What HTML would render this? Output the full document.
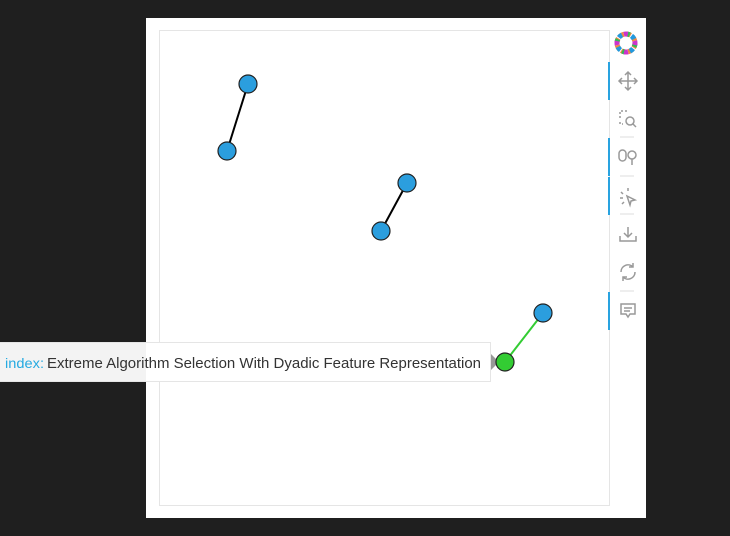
<!DOCTYPE html>
<html><head><style>
html,body{margin:0;padding:0;background:#1f1f1f;width:730px;height:536px;overflow:hidden;font-family:"Liberation Sans",sans-serif}
</style></head><body>
<svg width="730" height="536" xmlns="http://www.w3.org/2000/svg" style="position:absolute;left:0;top:0">
<rect x="0" y="0" width="730" height="536" fill="#1f1f1f"/>
<rect x="146" y="18" width="500" height="500" fill="#fff"/>
<rect x="159.5" y="30.5" width="450" height="475" fill="none" stroke="#e5e5e5"/>
<line x1="248" y1="84" x2="227" y2="151" stroke="#000" stroke-width="2"/>
<line x1="407" y1="183" x2="381" y2="231" stroke="#000" stroke-width="2"/>
<line x1="543" y1="313" x2="505" y2="362" stroke="#33cc33" stroke-width="2"/>
<g stroke="#222" stroke-width="1.2" fill="#2b9ede">
<circle cx="248" cy="84" r="9"/><circle cx="227" cy="151" r="9"/>
<circle cx="407" cy="183" r="9"/><circle cx="381" cy="231" r="9"/>
<circle cx="543" cy="313" r="9"/>
</g>
<!-- toolbar -->
<g fill="#29a3e0">
<rect x="608" y="62" width="2" height="38"/>
<rect x="608" y="138" width="2" height="38"/>
<rect x="608" y="177" width="2" height="38"/>
<rect x="608" y="292" width="2" height="38"/>
</g>
<g stroke="#ddd"><line x1="620" y1="137" x2="634" y2="137"/><line x1="620" y1="176" x2="634" y2="176"/><line x1="620" y1="214" x2="634" y2="214"/><line x1="620" y1="291" x2="634" y2="291"/></g>
<g transform="translate(626,43)">
<circle r="9" fill="none" stroke="#e84" stroke-width="5" stroke-dasharray="5 2"/>
<circle r="9" fill="none" stroke="#3b5" stroke-width="5" stroke-dasharray="4 10" />
<circle r="9" fill="none" stroke="#29d" stroke-width="5" stroke-dasharray="4 10" stroke-dashoffset="8"/>
<circle r="9" fill="none" stroke="#c3c" stroke-width="5" stroke-dasharray="4 10" stroke-dashoffset="16"/>
<circle r="5" fill="#fff"/>
</g>
<g stroke="#999" stroke-width="1.5" fill="none">
<path d="M628 72v18M619 81h18M625 75l3-3 3 3M625 87l3 3 3-3M622 78l-3 3 3 3M634 78l3 3-3 3"/>
<path d="M620 118v-7h7M620 122v2h3" stroke-dasharray="2 2"/><circle cx="630" cy="121" r="4"/><path d="M633 124l3 3"/>
<rect x="619" y="150" width="7" height="11" rx="3.5"/><circle cx="632" cy="155" r="4"/><path d="M632 159v6"/>
<path d="M628 188v3M621 192l2 2M620 198h3M624 202l-2 2M627 196l8 4-4 1-1 4z"/>
<path d="M628 227v10M624 233l4 4 4-4M620 236v5h16v-5"/>
<path d="M621 272a7 7 0 0 1 12-5M635 272a7 7 0 0 1-12 5M633 263v4h-4M623 281v-4h4"/>
<path d="M621 304h14v10h-5l-2 3-2-3h-5z M624 308h8M624 311h6"/>
</g>
<!-- tooltip -->
<rect x="0" y="342.5" width="490.5" height="39" fill="#fff" stroke="#e5e5e5"/>
<rect x="0" y="343" width="146" height="38" fill="#f3f3f3"/>
<path d="M491 354l8 8-8 8z" fill="#999"/>
<circle cx="505" cy="362" r="9" fill="#33cc33" stroke="#222" stroke-width="1.2"/>
<text x="5" y="368" font-size="14" fill="#26aae1" textLength="39" lengthAdjust="spacingAndGlyphs">index:</text>
<text x="47" y="368" font-size="14.5" fill="#333" textLength="434" lengthAdjust="spacingAndGlyphs">Extreme Algorithm Selection With Dyadic Feature Representation</text>
</svg>
</body></html>
